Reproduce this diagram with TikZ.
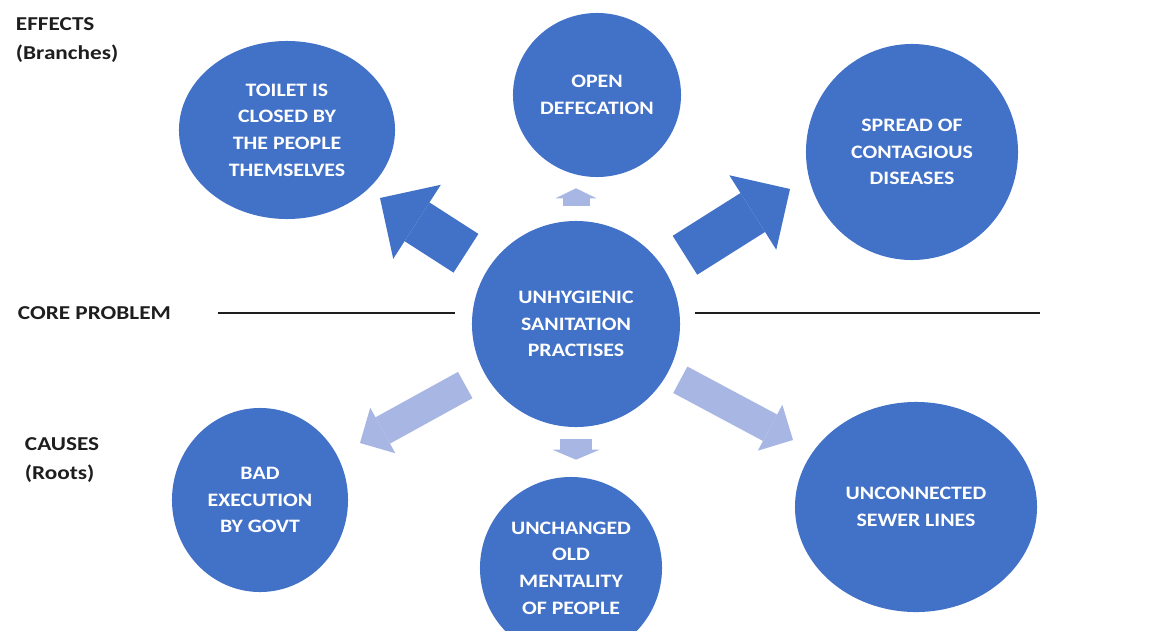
\documentclass[tikz,border=0pt]{standalone}
\usepackage{fontspec}
\setmainfont{Carlito}
\newfontfamily\bubblefont[FakeStretch=1.15]{Carlito}
\newfontfamily\sidefont[FakeStretch=1.18]{Carlito}
\usetikzlibrary{arrows.meta,shapes.geometric}
\definecolor{bubblefill}{HTML}{4271C8}
\definecolor{paleblue}{HTML}{A8B6E4}
\definecolor{labelgrey}{HTML}{1E1E1E}

\begin{document}
\begin{tikzpicture}[x=0.025cm,y=-0.025cm,
  bubble/.style={ellipse,fill=bubblefill,draw=none,inner sep=0pt,text=white,align=center,
    font=\bubblefont\bfseries\fontsize{13.5}{19}\selectfont},
  sidelabel/.style={anchor=west,align=left,text=labelgrey,font=\sidefont\bfseries\fontsize{14}{21}\selectfont},
  bigarrow/.style={line width=1.15cm,draw=bubblefill,-{Triangle[width=2.2cm,length=1.1cm,line width=0pt]}},
  palearrow/.style={line width=0.75cm,draw=paleblue,-{Triangle[width=1.3cm,length=0.65cm,line width=0pt]}},
  tinyarrow/.style={draw=paleblue,-{Triangle[width=#1,length=0.25cm,line width=0pt]}}]

  \fill[white] (0,0) rectangle (1170,631);
  \useasboundingbox (0,0) rectangle (1170,631);
  \clip (0,0) rectangle (1170,631);

  \node[bubble,minimum width=5.4cm,minimum height=4.45cm] (toilet) at (287,130)
    {TOILET IS\\CLOSED BY\\THE PEOPLE\\THEMSELVES};
  \node[bubble,minimum width=4.2cm,minimum height=4.1cm] (open) at (597,95)
    {OPEN\\DEFECATION};
  \node[bubble,minimum width=5.3cm,minimum height=5.4cm] (spread) at (912,152)
    {SPREAD OF\\CONTAGIOUS\\DISEASES};
  \node[bubble,minimum width=5.2cm,minimum height=5.15cm] (core) at (576,324)
    {UNHYGIENIC\\SANITATION\\PRACTISES};
  \node[bubble,minimum width=4.4cm,minimum height=4.6cm] (govt) at (260,500)
    {BAD\\EXECUTION\\BY GOVT};
  \node[bubble,minimum width=4.55cm,minimum height=4.55cm] (mental) at (571,568)
    {UNCHANGED\\OLD\\MENTALITY\\OF PEOPLE};
  \node[bubble,minimum width=6.05cm,minimum height=5.25cm] (sewer) at (916,507)
    {UNCONNECTED\\SEWER LINES};

  \node[sidelabel] (effects) at (11,40) {EFFECTS\\(Branches)};
  \node[sidelabel] (coreprob) at (13,313) {CORE PROBLEM};
  \node[sidelabel] (causes) at (20,460) {CAUSES\\(Roots)};

  \coordinate (toilettip) at (380,198);
  \coordinate (spreadtip) at (790,189);
  \coordinate (govttip) at (360,443);
  \coordinate (sewertip) at (793,440);

  \draw[labelgrey,line width=0.8pt] (218,313) -- (455,313);
  \draw[labelgrey,line width=0.8pt] (695,313) -- (1040,313);

  \path
  (core) edge[bigarrow,shorten <=0.67cm] (toilettip)
  edge[bigarrow,shorten <=0.62cm] (spreadtip)
  edge[palearrow,shorten <=0.56cm] (govttip)
  edge[palearrow,shorten <=0.355cm] (sewertip)
  (core.north) edge[tinyarrow=1.025cm,line width=0.675cm,shorten <=0.375cm,shorten >=0.275cm] (core.north |- open.south)
  (core.south) edge[tinyarrow=1.175cm,line width=0.8cm,shorten <=0.3cm,shorten >=0.425cm] (core.south |- mental.north);
\end{tikzpicture}
\end{document}
